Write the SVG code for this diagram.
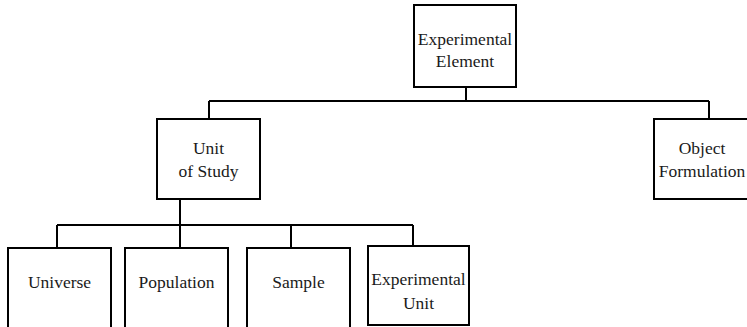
<svg xmlns="http://www.w3.org/2000/svg" width="747" height="327" viewBox="0 0 747 327">
  <style>
    .box { fill: #ffffff; stroke: #000000; stroke-width: 2; }
    .wire { fill: none; stroke: #000000; stroke-width: 2; }
    .label { font-family: "Liberation Serif", "Times New Roman", serif; font-size: 17.5px; fill: #1a1a1a; text-anchor: middle; }
  </style>
  <rect width="747" height="327" fill="#ffffff"/>

  <!-- tree connectors -->
  <g id="connectors">
    <path class="wire" d="M466 87 V101 M209 101 H709 M209 101 V119 M709 101 V119"/>
    <path class="wire" d="M180 199 V225 M57 225 H413 M57 225 V248 M180 225 V248 M291 225 V248 M413 225 V246"/>
  </g>

  <g id="experimental-element">
    <rect class="box" x="414" y="5" width="102" height="82"/>
    <text class="label" x="465" y="45">Experimental</text>
    <text class="label" x="465" y="67">Element</text>
  </g>

  <g id="unit-of-study">
    <rect class="box" x="157" y="119" width="103" height="80"/>
    <text class="label" x="208.5" y="154">Unit</text>
    <text class="label" x="208.5" y="177">of Study</text>
  </g>

  <g id="object-formulation">
    <rect class="box" x="654" y="119" width="110" height="80"/>
    <text class="label" x="702" y="154">Object</text>
    <text class="label" x="702" y="177">Formulation</text>
  </g>

  <g id="universe">
    <rect class="box" x="8" y="248" width="103" height="90"/>
    <text class="label" x="59.5" y="288">Universe</text>
  </g>

  <g id="population">
    <rect class="box" x="125" y="248" width="103" height="90"/>
    <text class="label" x="176.5" y="288">Population</text>
  </g>

  <g id="sample">
    <rect class="box" x="247" y="248" width="103" height="90"/>
    <text class="label" x="298.5" y="288">Sample</text>
  </g>

  <g id="experimental-unit">
    <rect class="box" x="368" y="246" width="101" height="79"/>
    <text class="label" x="418.5" y="285">Experimental</text>
    <text class="label" x="418.5" y="309">Unit</text>
  </g>
</svg>
